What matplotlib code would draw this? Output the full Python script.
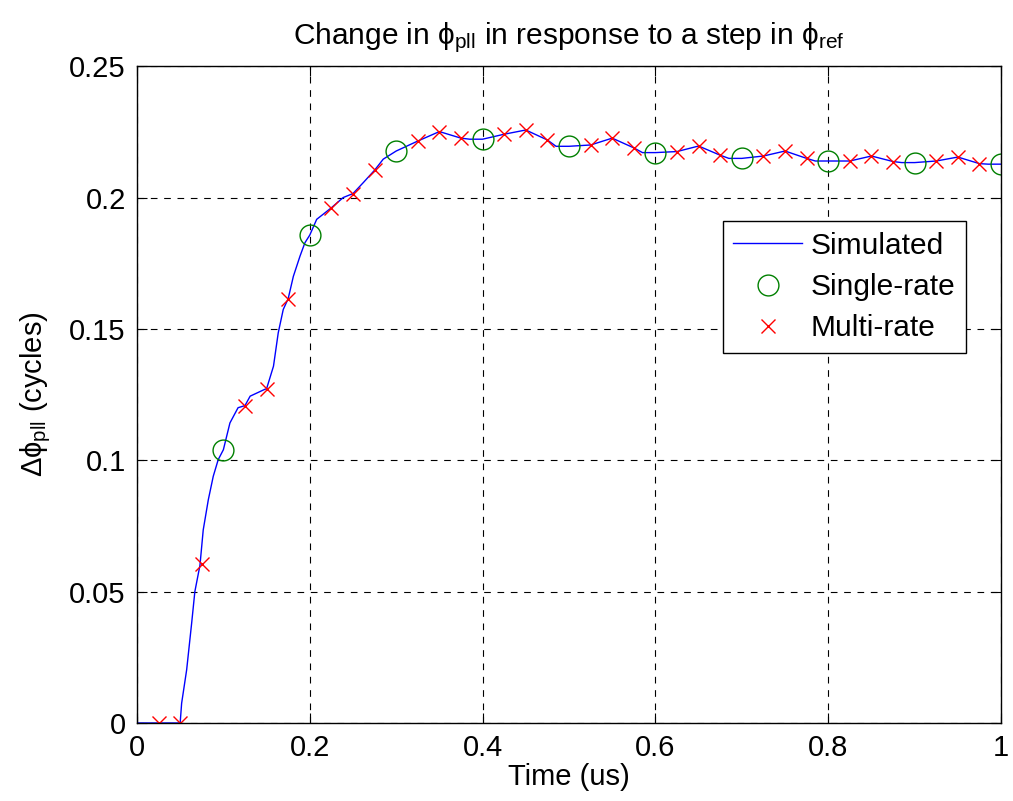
import matplotlib
matplotlib.use("Agg")
import matplotlib.pyplot as plt

plt.rcParams['font.family'] = ['Liberation Sans', 'DejaVu Sans']
plt.rcParams['mathtext.fontset'] = 'custom'
plt.rcParams['mathtext.rm'] = 'Liberation Sans'
plt.rcParams['mathtext.it'] = 'Liberation Sans'

# simulated response
sim_t = [0, 0.05, 0.0517, 0.0575, 0.0633, 0.067, 0.0729, 0.0767, 0.0826, 0.0883,
         0.094, 0.1, 0.1076, 0.117, 0.125, 0.131, 0.148, 0.15, 0.158, 0.1635,
         0.1693, 0.175, 0.181, 0.1887, 0.1944, 0.2, 0.208, 0.225, 0.2387, 0.25,
         0.262, 0.275, 0.285, 0.3, 0.325, 0.35, 0.375, 0.385, 0.4, 0.425,
         0.45, 0.475, 0.485, 0.5, 0.525, 0.55, 0.575, 0.585, 0.6, 0.625,
         0.65, 0.675, 0.685, 0.7, 0.725, 0.75, 0.775, 0.785, 0.8, 0.825,
         0.85, 0.875, 0.885, 0.9, 0.925, 0.95, 0.975, 0.985, 1.0]
sim_y = [0, 0, 0.0075, 0.0202, 0.038, 0.05, 0.060, 0.0735, 0.085, 0.0939,
         0.1002, 0.104, 0.1142, 0.12, 0.1208, 0.1244, 0.127, 0.1272, 0.1358, 0.1485,
         0.1574, 0.1615, 0.170, 0.1777, 0.1828, 0.1857, 0.1917, 0.1961, 0.200, 0.2015,
         0.2057, 0.2104, 0.2146, 0.2177, 0.2215, 0.2251, 0.2226, 0.2222, 0.2222, 0.2241,
         0.2257, 0.2219, 0.2195, 0.2195, 0.2200, 0.2226, 0.2189, 0.2171, 0.2171, 0.2175,
         0.2196, 0.2161, 0.2149, 0.2149, 0.2158, 0.2177, 0.2149, 0.2139, 0.2139, 0.2139,
         0.2158, 0.2137, 0.2133, 0.2133, 0.2139, 0.2154, 0.2129, 0.2127, 0.2127]

# single-rate model samples
sr_t = [0.1, 0.2, 0.3, 0.4, 0.5, 0.6, 0.7, 0.8, 0.9, 1.0]
sr_y = [0.104, 0.1857, 0.2177, 0.2222, 0.2195, 0.2171, 0.2149, 0.2139, 0.2133, 0.2127]

# multi-rate model samples
mr_t = [0.025, 0.05, 0.075, 0.125, 0.15, 0.175, 0.225, 0.25, 0.275, 0.325,
        0.35, 0.375, 0.425, 0.45, 0.475, 0.525, 0.55, 0.575, 0.625, 0.65,
        0.675, 0.725, 0.75, 0.775, 0.825, 0.85, 0.875, 0.925, 0.95, 0.975]
mr_y = [0, 0, 0.0606, 0.1208, 0.1272, 0.1615, 0.1961, 0.2015, 0.2104, 0.2215,
        0.2251, 0.2226, 0.2241, 0.2257, 0.2219, 0.2200, 0.2226, 0.2189, 0.2175, 0.2196,
        0.2161, 0.2158, 0.2177, 0.2149, 0.2139, 0.2158, 0.2137, 0.2139, 0.2154, 0.2129]

xticks = [0, 0.2, 0.4, 0.6, 0.8, 1]
xlabels = ['0', '0.2', '0.4', '0.6', '0.8', '1']
yticks = [0, 0.05, 0.1, 0.15, 0.2, 0.25]
ylabels = ['0', '0.05', '0.1', '0.15', '0.2', '0.25']

fig = plt.figure(figsize=(10.13, 8.01), dpi=100)
ax = fig.add_axes([0.1352, 0.0974, 0.853, 0.820])

ax.plot(sim_t, sim_y, '-', color='#0000ff', lw=1.0, label='Simulated')
ax.plot(sr_t, sr_y, 'o', mfc='none', mec='#008000', ms=15, mew=1.0, label='Single-rate')
ax.plot(mr_t, mr_y, 'x', color='#ff0000', ms=10, mew=1.0, label='Multi-rate')

ax.set_xlim(0, 1)
ax.set_ylim(0, 0.25)
ax.set_xticks(xticks)
ax.set_xticklabels(xlabels)
ax.set_yticks(yticks)
ax.set_yticklabels(ylabels)
ax.tick_params(direction='in', top=True, right=True, labelsize=21, length=7, pad=8)
ax.grid(True, color='black', linestyle=(0, (6, 6)), lw=0.8)
for s in ax.spines.values():
    s.set_linewidth(1.0)

ax.set_title(r'Change in $\phi_{\mathrm{pll}}$ in response to a step in $\phi_{\mathrm{ref}}$',
             fontsize=21.5, pad=16)
ax.set_xlabel('Time (us)', fontsize=21, labelpad=1)
ax.set_ylabel(r'$\Delta\phi_{\mathrm{pll}}$ (cycles)', fontsize=21, labelpad=12)

leg = ax.legend(loc='upper right', bbox_to_anchor=(0.9595, 0.764), fontsize=21.5,
                fancybox=False, framealpha=1, edgecolor='black', borderaxespad=0,
                handlelength=2.3, handletextpad=0.3, labelspacing=0.45, borderpad=0.35)
leg.get_frame().set_linewidth(1.0)

fig.savefig('out.png', dpi=100)
